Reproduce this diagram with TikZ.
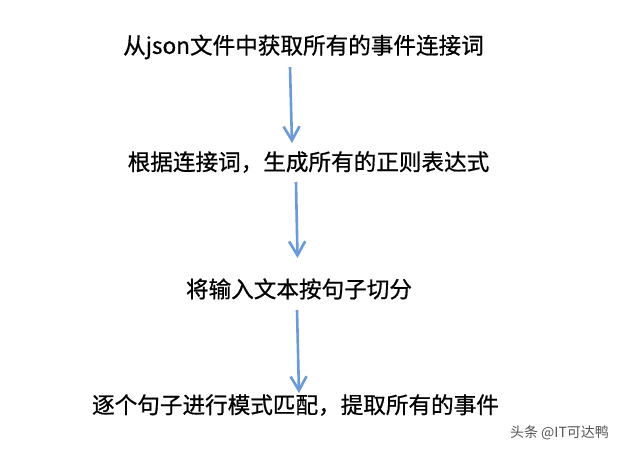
\documentclass[tikz,border=0pt]{standalone}
\usepackage{fontspec}
\setmainfont{Noto Sans CJK SC}
\newfontfamily\lblfont{Noto Sans CJK SC}[FakeBold=0.7]
\usetikzlibrary{arrows.meta}
\definecolor{arrowblue}{HTML}{6C9AD6}
\definecolor{markgray}{HTML}{555555}
\begin{document}
\begin{tikzpicture}[x=1pt,y=-1pt,
  lbl/.style={font=\lblfont\fontsize{22.6}{26}\selectfont, inner sep=0pt, text=black},
  wmark/.style={font=\fontsize{14}{16}\selectfont, inner sep=0pt, text=markgray},
  flow/.style={draw=arrowblue, line width=2.6pt,
    -{Straight Barb[length=14pt,width=16pt,line width=2.6pt]}}]
\fill[white] (0,0) rectangle (629,454);
\useasboundingbox (0,0) rectangle (629,454);
\node[lbl] (t1) at (303.5,47) {从json文件中获取所有的事件连接词};
\node[lbl] (t2) at (308.5,162) {根据连接词，生成所有的正则表达式};
\node[lbl] (t3) at (299,289) {将输入文本按句子切分};
\node[lbl] (t4) at (295.5,405) {逐个句子进行模式匹配，提取所有的事件};
\node[wmark] (wm) at (559.5,433) {头条 @IT可达鸭};
\coordinate (a1s) at ([shift={(-13.5,20)}]t1.center);
\coordinate (a1e) at ([shift={(-16.5,-19)}]t2.center);
\coordinate (a2s) at ([shift={(-12.5,20)}]t2.center);
\coordinate (a2e) at ([shift={(-1.5,-31)}]t3.center);
\coordinate (a3s) at ([shift={(-2,21)}]t3.center);
\coordinate (a3e) at ([shift={(3.5,-12)}]t4.center);
\draw[flow] (a1s) -- (a1e);
\draw[flow] (a2s) -- (a2e);
\draw[flow] (a3s) -- (a3e);
\end{tikzpicture}
\end{document}
